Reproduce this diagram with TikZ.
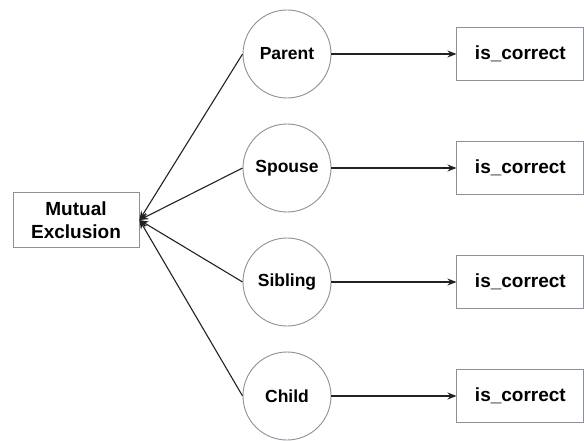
\documentclass[tikz,border=0pt]{standalone}
\usepackage{fontspec}
\setmainfont{Liberation Sans}
\usetikzlibrary{arrows.meta,positioning}
\definecolor{edgegray}{HTML}{8C9099}
\definecolor{linkgray}{HTML}{222222}
\tikzset{
  role/.style={circle, draw=edgegray, line width=0.9pt, minimum size=88pt, inner sep=0pt,
    font=\fontsize{17.5}{21}\selectfont\bfseries},
  result/.style={draw=edgegray, line width=0.9pt, minimum width=127pt, minimum height=53pt,
    align=center, font=\fontsize{19}{23}\selectfont\bfseries},
  link/.style={->, linkgray, line width=1.1pt},
}
\begin{document}
\begin{tikzpicture}[x=1pt, y=-1pt, >={Stealth[length=9pt,width=7pt]}, node distance=125pt]
\useasboundingbox (0,0) rectangle (584,441);

% Nodes
\node[result, minimum width=126pt, minimum height=55pt] (mutex) at (76,220) {Mutual\\Exclusion};
\node[role] (parent) at (287,54) {Parent};
\node[role] (spouse) at (287,168) {Spouse};
\node[role] (sibling) at (287,282) {Sibling};
\node[role] (child) at (287,396) {Child};
\node[result, right=of parent] (pcorrect) {is\_correct};
\node[result, right=of spouse] (scorrect) {is\_correct};
\node[result, right=of sibling] (bcorrect) {is\_correct};
\node[result, right=of child] (ccorrect) {is\_correct};

% Edges
\foreach \r/\c in {parent/pcorrect, spouse/scorrect, sibling/bcorrect, child/ccorrect} {
  \draw[link] (\r.west) -- (mutex.east);
  \draw[link] (\r) -- (\c);
}

\end{tikzpicture}
\end{document}
